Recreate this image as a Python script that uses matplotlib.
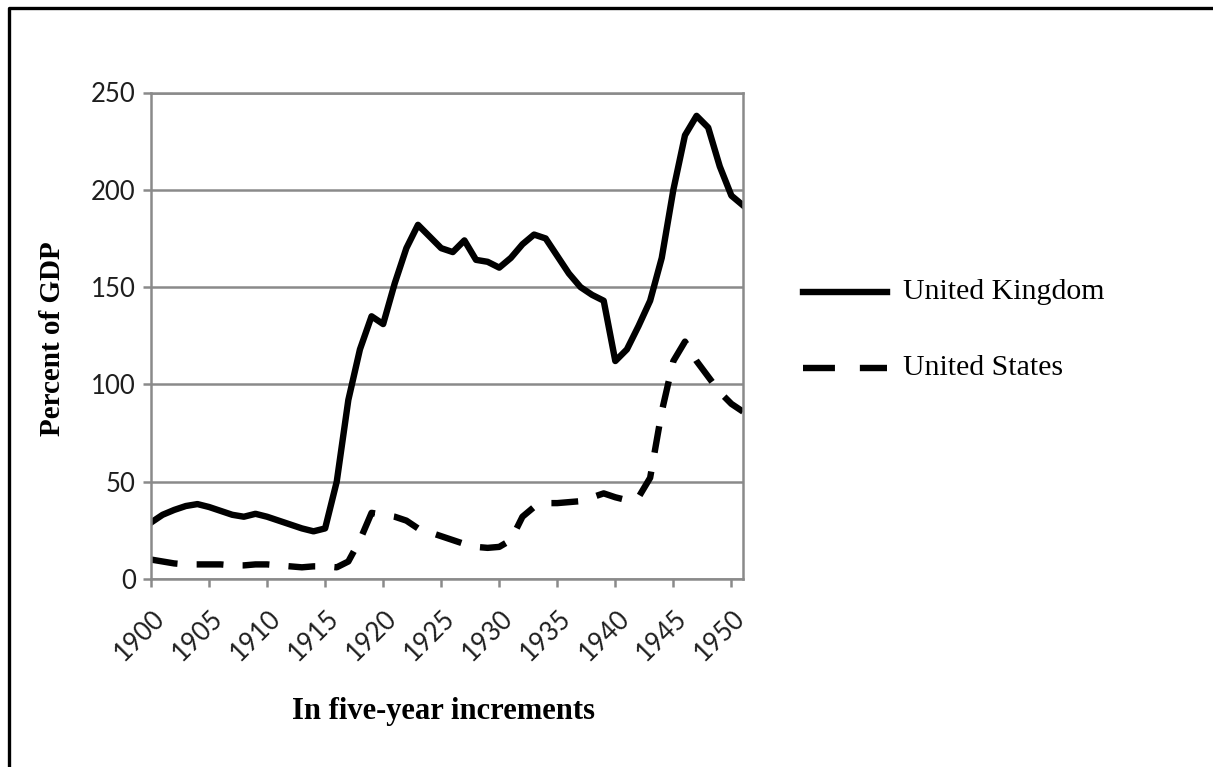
import matplotlib.pyplot as plt
from matplotlib.lines import Line2D
from matplotlib.transforms import ScaledTranslation

# Government debt, percent of GDP
years = list(range(1900, 1952))
uk_debt = [29, 33, 35.5, 37.5, 38.5, 37, 35, 33, 32, 33.5,
           32, 30, 28, 26, 24.5, 26, 50, 92, 118, 135,
           131, 152, 170, 182, 176, 170, 168, 174, 164, 163,
           160, 165, 172, 177, 175, 166, 157, 150, 146, 143,
           112, 118, 130, 143, 165, 200, 228, 238, 232, 212,
           197, 192]
us_debt = [10, 9, 8, 7.5, 7.5, 7.5, 7.5, 7, 7, 7.5,
           7.5, 7, 6.5, 6, 6.5, 6.5, 6, 9, 20, 34,
           33, 32, 30, 26, 24, 22, 20, 18, 16.5, 16,
           16.5, 20, 32, 37, 39, 39, 39.5, 40, 42, 44,
           42, 40.5, 42, 52, 86, 112, 122, 112, 104, 96,
           90, 86]
series_names = ['United Kingdom', 'United States']
tick_years = list(range(1900, 1951, 5))
y_ticks = [0, 50, 100, 150, 200, 250]

W, H = 1213, 767
grey = '#8a8a8a'
dash = (0, (4.2, 3.0))

fig = plt.figure(figsize=(W / 100, H / 100), dpi=100)
ax = fig.add_axes([151 / W, 1 - 579 / H, (743 - 151) / W, (579 - 92.5) / H])

ax.plot(years, uk_debt, color='black', lw=4.6, solid_joinstyle='round')
ax.plot(years, us_debt, color='black', lw=4.6, linestyle=dash,
        dash_joinstyle='round')

ax.set_xlim(1900, 1951)
ax.set_ylim(0, 250)
ax.set_yticks(y_ticks)
ax.set_xticks(tick_years)
ax.yaxis.grid(True, color=grey, lw=1.8)
ax.set_axisbelow(True)
for sp in ax.spines.values():
    sp.set_color(grey)
    sp.set_linewidth(1.8)

ax.tick_params(direction='out', length=6, width=1.8, color=grey,
               labelsize=18.5, labelcolor='#1e1e1e')
ax.tick_params(axis='y', pad=5)
for lab in ax.get_yticklabels():
    lab.set_fontfamily('Lato')
off = ScaledTranslation(10 / 100, -22 / 100, fig.dpi_scale_trans)
for lab in ax.get_xticklabels():
    lab.set_fontfamily('Lato')
    lab.set_rotation(45)
    lab.set_ha('right')
    lab.set_va('center')
    lab.set_rotation_mode('anchor')
    lab.set_transform(lab.get_transform() + off)

ax.set_ylabel('Percent of GDP', fontfamily='Liberation Serif',
              fontweight='bold', fontsize=21)
ax.yaxis.set_label_coords((53 - 151) / 592, (579 - 339) / 486.5)
ax.yaxis.label.set_va('center')
ax.set_xlabel('In five-year increments', fontfamily='Liberation Serif',
              fontweight='bold', fontsize=22)
ax.xaxis.set_label_coords((443 - 151) / 592, (579 - 712) / 486.5)
ax.xaxis.label.set_va('center')

# legend drawn by hand to sit where the original puts it
leg_y = [292, 368]
styles = ['-', (0, (5.0, 3.9))]
for name, ly, ls in zip(series_names, leg_y, styles):
    fig.add_artist(Line2D([803 / W, 887 / W], [1 - ly / H, 1 - ly / H],
                          transform=fig.transFigure, color='black',
                          lw=4.6, linestyle=ls))
    fig.text(903 / W, 1 - ly / H, name, fontfamily='Liberation Serif',
             fontsize=21.5, ha='left', va='center')

# outer frame (top and left edges)
fig.add_artist(Line2D([9 / W, 9 / W, 1], [0, 1 - 8 / H, 1 - 8 / H],
                      transform=fig.transFigure, color='black', lw=2.4))

fig.savefig('out.png', dpi=100)
